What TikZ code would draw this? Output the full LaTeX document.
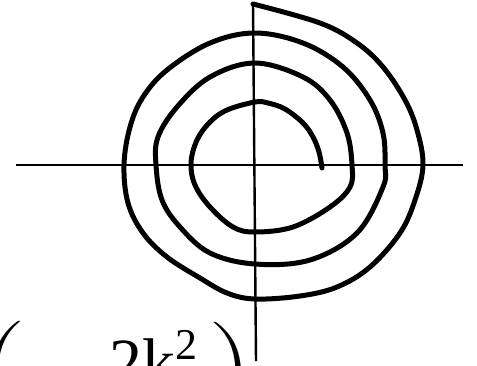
\documentclass[tikz,border=0pt]{standalone}
\usepackage{fontspec}
\setmainfont{Liberation Serif}
\begin{document}
\begin{tikzpicture}[x=1pt,y=-1pt,
  axis/.style={line width=2.4pt},
  spiral/.style={line width=5pt,line cap=round,line join=round},
  txt/.style={inner sep=0pt,outer sep=0pt,anchor=base west},
  paren/.style={inner sep=0pt,outer sep=0pt}]
\useasboundingbox (0,0) rectangle (477,365);
\coordinate (hl) at (16,165);
\coordinate (hr) at (463,165);
\coordinate (vt) at (253,3);
\coordinate (vb) at (256,361);
\draw[axis] (hl) -- (hr);
\draw[axis] (vt) -- (vb);
\draw[spiral] plot[smooth,tension=0.6] coordinates {
 (322,168) (319,152) (313,137) (303,123) (285,109) (268,103) (255,102)
 (227,110) (210,122) (197,140) (191,163) (195,185) (210,207) (233,227)
 (255,232) (293,227) (330,207) (350,187) (352,165) (347,133) (330,100)
 (303,77) (255,63) (210,77) (177,107) (158,137) (156,165) (162,200)
 (180,227) (210,253) (255,264) (310,260) (357,233) (383,187) (385,165)
 (383,133) (370,100) (343,67) (303,43) (255,33) (210,43) (167,70)
 (143,97) (130,127) (124,165) (128,203) (143,233) (167,257) (200,278)
 (227,293) (255,299) (300,296) (337,287) (370,267) (400,233) (415,200) (423,165)
 (417,130) (405,100) (383,67) (357,43) (320,23) (253,4)};
\node[paren,anchor=north east] (lp) at (28,321) {\scalebox{5}[3]{$\left(\vrule height 25pt depth 25pt width 0pt\right.$}};
\node[txt] (num) at (109,384) {\fontsize{66}{66}\selectfont 2k\raisebox{25pt}{\fontsize{44}{44}\selectfont 2}};
\node[paren,anchor=north west] (rp) at (206,322) {\scalebox{5}[3]{$\left.\vrule height 25pt depth 25pt width 0pt\right)$}};
\end{tikzpicture}
\end{document}
